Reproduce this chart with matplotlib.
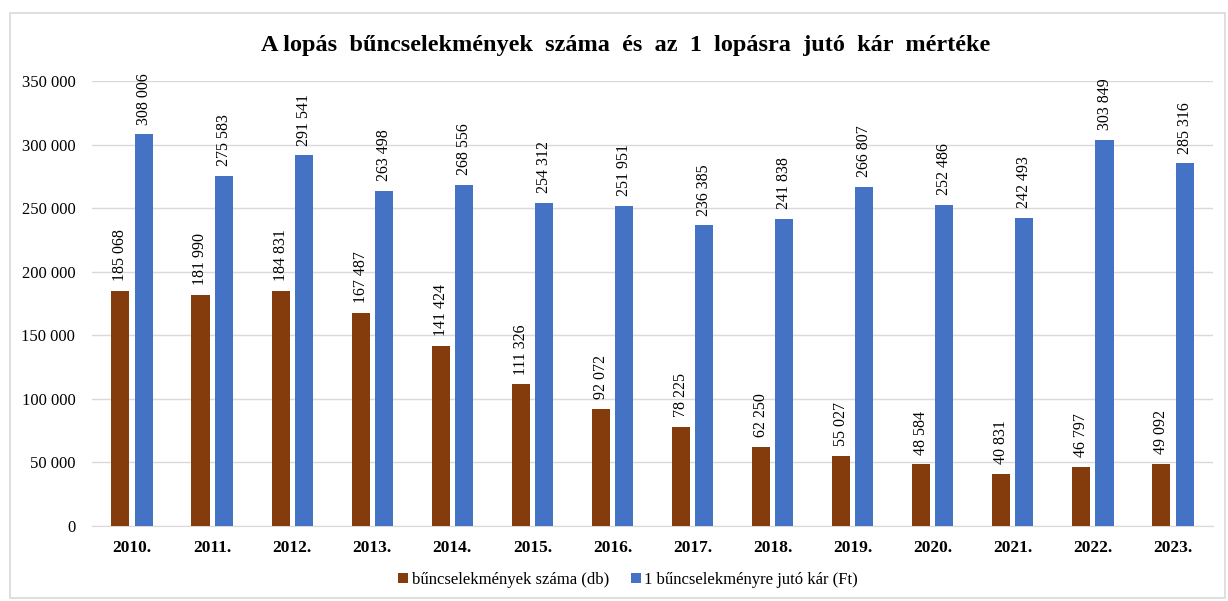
import numpy as np
import matplotlib.pyplot as plt
from matplotlib.patches import Rectangle

plt.rcParams['font.family'] = ['Liberation Serif', 'DejaVu Serif']

evek = ['2010.', '2011.', '2012.', '2013.', '2014.', '2015.', '2016.',
        '2017.', '2018.', '2019.', '2020.', '2021.', '2022.', '2023.']
szam = [185068, 181990, 184831, 167487, 141424, 111326, 92072,
        78225, 62250, 55027, 48584, 40831, 46797, 49092]
kar = [308006, 275583, 291541, 263498, 268556, 254312, 251951,
       236385, 241838, 266807, 252486, 242493, 303849, 285316]

def fmt(v):
    return f'{v:,}'.replace(',', ' ')

fig = plt.figure(figsize=(12.28, 6.01), dpi=100)
ax = fig.add_axes([92 / 1228, 75 / 601, (1213 - 92) / 1228, (526 - 81) / 601])
fig.patches.append(Rectangle((10 / 1228, 3 / 601), 1215 / 1228, 585 / 601,
                             transform=fig.transFigure, fill=False,
                             edgecolor='#D9D9D9', linewidth=1.2))

x = np.arange(len(evek))
w = 0.225
off = 0.145
b1 = ax.bar(x - off, szam, w, color='#843C0C', label='bűncselekmények száma (db)', zorder=3)
b2 = ax.bar(x + off, kar, w, color='#4472C4', label='1 bűncselekményre jutó kár (Ft)', zorder=3)

for bars, vals in ((b1, szam), (b2, kar)):
    for r, v in zip(bars, vals):
        ax.annotate(fmt(v), (r.get_x() + r.get_width() / 2, v), xytext=(0, 7),
                    textcoords='offset points', rotation=90, ha='center', va='bottom',
                    fontsize=11.5)

ax.set_xlim(-0.5, len(evek) - 0.5)
ax.set_ylim(0, 350000)
ax.set_yticks(range(0, 350001, 50000))
ax.set_yticklabels([fmt(v) for v in range(0, 350001, 50000)], fontsize=12)
ax.set_xticks(x)
ax.set_xticklabels(evek, fontsize=12.5, fontweight='bold')
ax.tick_params(axis='y', length=0, pad=12)
ax.tick_params(axis='x', length=0, pad=10)
ax.grid(axis='y', color='#D9D9D9', linewidth=1, zorder=0)
for s in ['top', 'right', 'left']:
    ax.spines[s].set_visible(False)
ax.spines['bottom'].set_color('#D9D9D9')

fig.text(626 / 1228, 1 - 45 / 601, 'A lopás  bűncselekmények  száma  és  az  1  lopásra  jutó  kár  mértéke',
         ha='center', va='center', fontsize=17.5, fontweight='bold')

fig.legend(loc='center', bbox_to_anchor=(628 / 1228, 1 - 580 / 601), ncol=2, frameon=False,
           fontsize=12, handlelength=0.6, handleheight=0.6, handletextpad=0.2, columnspacing=1.3)

fig.savefig('out.png', dpi=100)
